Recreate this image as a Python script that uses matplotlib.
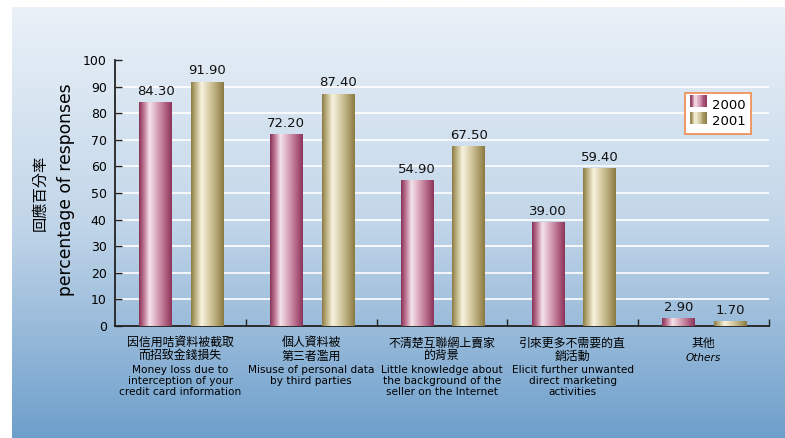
import numpy as np
import matplotlib
matplotlib.use('Agg')
import matplotlib.pyplot as plt
from matplotlib.colors import LinearSegmentedColormap
from matplotlib.patches import Rectangle
from matplotlib.legend_handler import HandlerBase

plt.rcParams['font.family'] = ['DejaVu Sans', 'Noto Sans CJK TC']

# survey data (percentage of responses)
cats_zh = ['因信用咭資料被截取\n而招致金錢損失', '個人資料被\n第三者濫用',
           '不清楚互聯網上賣家\n的背景', '引來更多不需要的直\n銷活動', '其他']
cats_en = ['Money loss due to\ninterception of your\ncredit card information',
           'Misuse of personal data\nby third parties',
           'Little knowledge about\nthe background of the\nseller on the Internet',
           'Elicit further unwanted\ndirect marketing\nactivities',
           'Others']
years = ['2000', '2001']
v2000 = [84.30, 72.20, 54.90, 39.00, 2.90]
v2001 = [91.90, 87.40, 67.50, 59.40, 1.70]

pink = LinearSegmentedColormap.from_list('pink', [
    (0.0, '#8a3458'), (0.12, '#b66b8a'), (0.32, '#f5e3eb'),
    (0.55, '#d9a5ba'), (0.82, '#b06082'), (1.0, '#8c355a')])
gold = LinearSegmentedColormap.from_list('gold', [
    (0.0, '#8d7c46'), (0.12, '#b9ac7c'), (0.32, '#f7f3df'),
    (0.55, '#d8cea8'), (0.82, '#ad9f6a'), (1.0, '#8b7a44')])


class GradHandler(HandlerBase):
    def __init__(self, cmap):
        super().__init__()
        self.cmap = cmap

    def create_artists(self, legend, orig, xd, yd, w, h, fs, trans):
        n = 12
        out = []
        for i in range(n):
            r = Rectangle((xd + w * i / n, yd), w / n + 0.3, h,
                          facecolor=self.cmap((i + 0.5) / n), edgecolor='none',
                          transform=trans)
            out.append(r)
        return out


def shade(ax, bars, cmap):
    grad = np.linspace(0, 1, 64).reshape(1, -1)
    for b in bars:
        x0, y0 = b.get_x(), b.get_y()
        w, h = b.get_width(), b.get_height()
        im = ax.imshow(grad, cmap=cmap, aspect='auto', interpolation='bilinear',
                       extent=(x0, x0 + w, y0, y0 + h), zorder=3)
        im.set_clip_path(b)


fig = plt.figure(figsize=(7.85, 4.38), dpi=100)
fig.patch.set_facecolor('white')

# blue backdrop, lighter at the top
bg = fig.add_axes([12 / 785, 0, 1 - 12 / 785, 1 - 7 / 438], zorder=-1)
vert = np.linspace(0, 1, 256).reshape(-1, 1)
sky = LinearSegmentedColormap.from_list('sky', ['#eaf1f8', '#c2d6e9', '#6e9fcb'])
bg.imshow(vert, cmap=sky, aspect='auto', extent=(0, 1, 1, 0))
bg.set_axis_off()

ax = fig.add_axes([115 / 785, 112 / 438, 654 / 785, 266 / 438])
ax.set_facecolor('none')

x = np.arange(len(cats_zh)) + 0.5
bw = 0.25
b1 = ax.bar(x - 0.19, v2000, bw, color=pink(0.5), zorder=2, label=years[0])
b2 = ax.bar(x + 0.205, v2001, bw, color=gold(0.5), zorder=2, label=years[1])
shade(ax, b1, pink)
shade(ax, b2, gold)

for bars in (b1, b2):
    ax.bar_label(bars, fmt='%.2f', padding=3, fontsize=9.5, color='#111111')

ax.set_xlim(0, len(cats_zh))
ax.set_ylim(0, 100)
ax.set_yticks(np.arange(0, 101, 10))
ax.tick_params(axis='y', direction='in', length=5, width=1, color='#222222',
               labelsize=9, pad=6)
ax.set_xticks(np.arange(1, len(cats_zh) + 1))
ax.set_xticklabels([])
ax.tick_params(axis='x', direction='in', length=5, width=1, color='#222222')
for y in range(10, 100, 10):
    ax.axhline(y, color='white', lw=1.2, zorder=1)
for s in ('top', 'right'):
    ax.spines[s].set_visible(False)
for s in ('left', 'bottom'):
    ax.spines[s].set_color('#222222')
    ax.spines[s].set_linewidth(1.3)

for xi, zh, en in zip(x, cats_zh, cats_en):
    ax.annotate(zh, (xi, 0), xycoords=('data', 'axes fraction'),
                xytext=(0, -7.5), textcoords='offset points', ha='center', va='top',
                fontsize=8.6, linespacing=1.0,
                family=['Noto Sans CJK TC', 'DejaVu Sans'])
    nz = zh.count('\n') + 1
    ax.annotate(en, (xi, 0), xycoords=('data', 'axes fraction'),
                xytext=(0, -7.5 - nz * 9.2 - 2.5), textcoords='offset points',
                ha='center', va='top', fontsize=7.6, linespacing=1.08,
                style='italic' if en == 'Others' else 'normal')

fig.text(40 / 785, 1 - 193 / 438, '回應百分率', rotation=90, ha='center', va='center',
         fontsize=11, family=['Noto Sans CJK TC', 'DejaVu Sans'])
fig.text(66 / 785, 1 - 190 / 438, 'percentage of responses', rotation=90,
         ha='center', va='center', fontsize=12.3)

leg = ax.legend(handles=[b1, b2], labels=years,
                handler_map={b1: GradHandler(pink), b2: GradHandler(gold)},
                loc='upper left', bbox_to_anchor=(0.8716, 0.876), borderaxespad=0,
                fontsize=9.5, frameon=True, fancybox=False,
                handlelength=1.2, handleheight=1.0, handletextpad=0.45,
                labelspacing=0.25, borderpad=0.4)
leg.get_frame().set_edgecolor('#f08a4b')
leg.get_frame().set_linewidth(1.2)
leg.get_frame().set_facecolor('white')
leg.get_frame().set_alpha(1)

fig.savefig('out.png', dpi=100)
